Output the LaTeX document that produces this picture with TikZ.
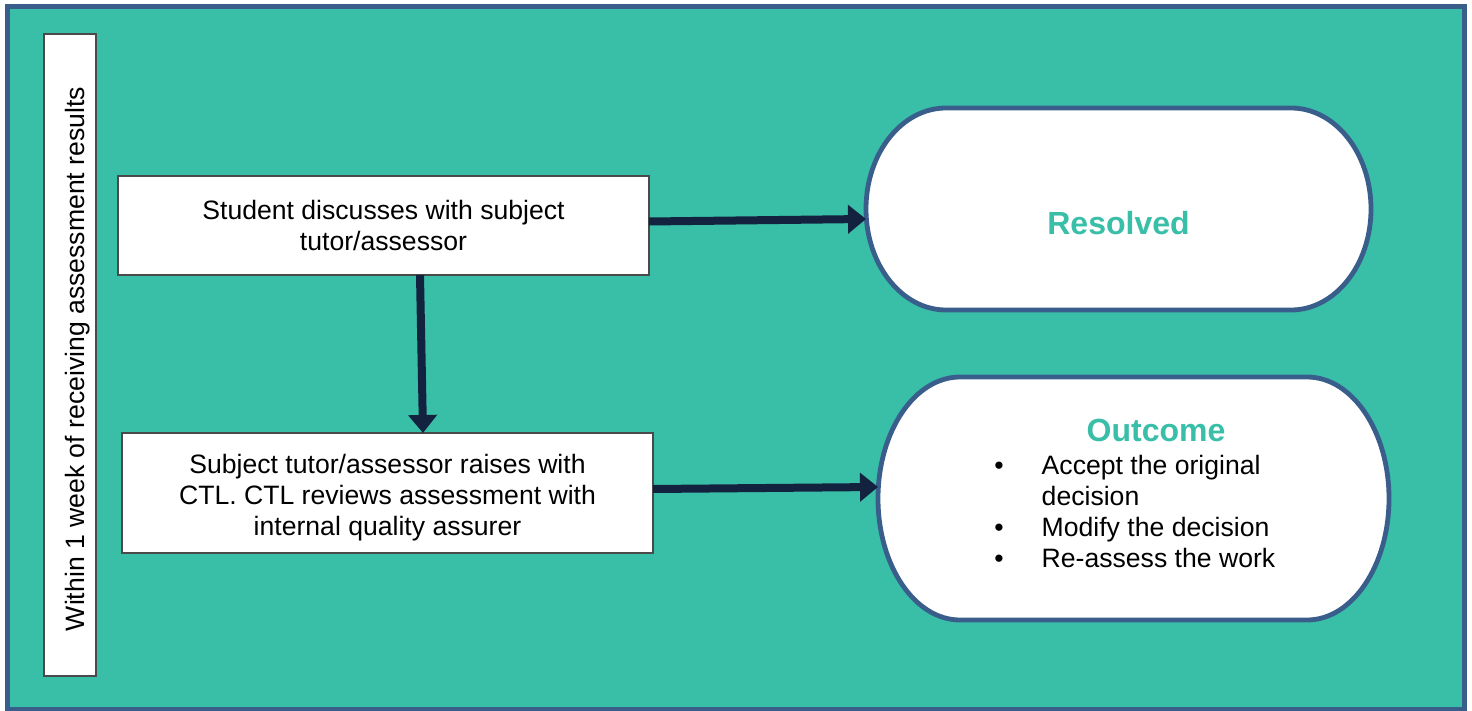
\documentclass[tikz,border=0pt]{standalone}
\usepackage{fontspec}
\setmainfont{Liberation Sans}
\usetikzlibrary{arrows.meta}
\definecolor{laneteal}{HTML}{39BEA8}
\definecolor{frameblue}{HTML}{3A5E8C}
\definecolor{arrownavy}{HTML}{13233F}
\definecolor{boxgray}{HTML}{4A4A4A}

\begin{document}
\begin{tikzpicture}[x=0.5pt,y=0.5pt,
  every node/.style={font=\fontsize{13.3}{15.5}\selectfont},
  stepbox/.style={draw=boxgray,line width=0.75pt,fill=white,align=center,inner sep=0pt,outer sep=0pt,minimum width=265.5pt},
  termbox/.style={inner sep=0pt,outer sep=0pt},
  termline/.style={draw=frameblue,line width=2.4pt,fill=white},
  termtitle/.style={font=\fontsize{16}{19}\selectfont\bfseries,text=laneteal},
  flow/.style={draw=arrownavy,line width=4pt,-{Triangle[length=9pt,width=14pt]}}]
\useasboundingbox (0,0) rectangle (1472,-711);
\draw[draw=frameblue,line width=2.5pt,fill=laneteal] (7,-7) rectangle (1464,-709);

% time frame
\node[stepbox,minimum width=26pt,minimum height=321pt] (lane) at (70,-355) {};
\node[rotate=90] (lanetext) at ([xshift=4pt,yshift=-2pt]lane.center) {Within 1 week of receiving assessment results};

% steps
\node[stepbox,minimum height=49.5pt] (discuss) at (383.5,-225.5) {Student discusses with subject\\tutor/assessor};
\node[stepbox,minimum height=60pt] (raise) at (387.5,-493) {};
\node[align=center] (raisetext) at ([yshift=-2.5pt]raise.center) {Subject tutor/assessor raises with\\CTL. CTL reviews assessment with\\internal quality assurer};

% resolved
\node[termbox,minimum width=252.5pt,minimum height=101pt] (res) at (1118.5,-209) {};
\draw[termline] ([xshift=40pt]res.north west) -- ([xshift=-40pt]res.north east)
  arc[start angle=90,end angle=-90,x radius=40pt,y radius=50.5pt]
  -- ([xshift=40pt]res.south west)
  arc[start angle=270,end angle=90,x radius=40pt,y radius=50.5pt] -- cycle;
\node[termtitle] (restitle) at ([yshift=-7pt]res.center) {Resolved};

% outcome
\node[termbox,minimum width=255.5pt,minimum height=121.5pt] (outc) at (1133.5,-498.5) {};
\draw[termline] ([xshift=41pt]outc.north west) -- ([xshift=-41pt]outc.north east)
  arc[start angle=90,end angle=-90,x radius=41pt,y radius=60.75pt]
  -- ([xshift=41pt]outc.south west)
  arc[start angle=270,end angle=90,x radius=41pt,y radius=60.75pt] -- cycle;
\node[termtitle] (outtitle) at (1156,-430) {Outcome};
\node[anchor=north west,inner sep=0pt] (outlist) at (994,-452) {\begin{tabular}{@{}l@{\hspace{19pt}}l@{}}
•&Accept the original\\
&decision\\
•&Modify the decision\\
•&Re-assess the work
\end{tabular}};

% arrows
\draw[flow] ([yshift=2pt]discuss.east) -- ([yshift=-5pt]res.west);
\draw[flow] ([xshift=18.25pt]discuss.south) -- ([xshift=17.75pt]raise.north);
\draw[flow] ([yshift=2pt]raise.east) -- ([yshift=5.75pt]outc.west);
\end{tikzpicture}
\end{document}
